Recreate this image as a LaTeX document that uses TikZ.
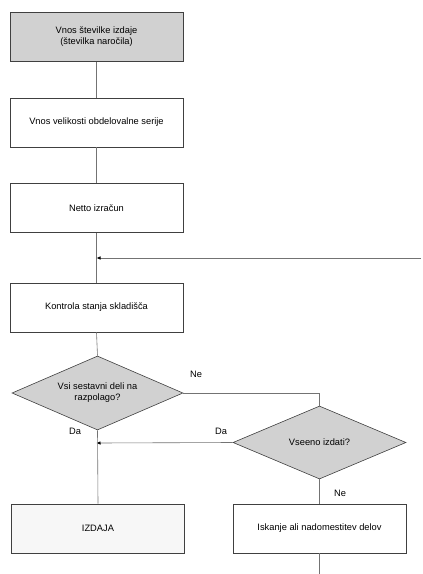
\documentclass[tikz,border=0pt]{standalone}
\usepackage{fontspec}
\setmainfont{Liberation Sans}
\usetikzlibrary{shapes.geometric,arrows.meta}
\definecolor{boxgray}{gray}{0.82}
\definecolor{linegray}{gray}{0.45}
\definecolor{edgegray}{gray}{0.25}
\begin{document}
\begin{tikzpicture}[x=1pt,y=-1pt,
  font=\fontsize{9.3}{11}\selectfont,
  procbox/.style={draw=edgegray,line width=0.6pt,minimum width=173pt,minimum height=49pt,inner sep=0pt,align=center},
  decide/.style={diamond,draw=edgegray,line width=0.6pt,fill=boxgray,inner sep=0pt,align=center},
  conn/.style={draw=linegray,line width=0.6pt},
  jarrow/.style={conn,-{Latex[length=4pt,width=3.5pt,fill=black,color=black]}},
  lbl/.style={inner sep=0pt}]
\useasboundingbox (0,0) rectangle (423,574);
\node[procbox,fill=boxgray] (b1) at (96.5,37) {Vnos številke izdaje\\(številka naročila)};
\node[procbox] (b2) at (96.5,122.5) {Vnos velikosti obdelovalne serije};
\node[procbox] (b3) at (96.5,208) {Netto izračun};
\node[procbox] (b4) at (96.5,307.5) {Kontrola stanja skladišča};
\node[decide,minimum width=171pt,minimum height=74pt] (d1) at (97.5,393) {};
\node[align=center] at (d1.center) {Vsi sestavni deli na\\razpolago?};
\node[decide,minimum width=173pt,minimum height=73pt] (d2) at (319.5,442.5) {};
\node at (d2.center) {Vseeno izdati?};
\node[procbox,fill=gray!6] (b5) at (98,528.5) {IZDAJA};
\node[procbox] (b6) at (319.5,528.5) {Iskanje ali nadomestitev delov};
\coordinate (j1) at (96.5,258);
\coordinate (r1) at (421,258);
\coordinate (j2) at (96.5,443);
\coordinate (k1) at (319.5,393);
\coordinate (e6) at (319.5,574);
\draw[conn] (b1.south) -- (b2.north);
\draw[conn] (b2.south) -- (b3.north);
\draw[conn] (b3.south) -- (b4.north);
\draw[jarrow] (r1) -- (j1);
\draw[conn] (b4.south) -- (d1.north);
\draw[conn] (d1.east) -- (k1) -- (d2.north);
\draw[jarrow] (d2.west) -- (j2);
\draw[conn] (d1.south) -- (b5.north);
\draw[conn] (d2.south) -- (b6.north);
\draw[conn] (b6.south) -- (e6);
\node[lbl] at (196,374) {Ne};
\node[lbl] at (75,431) {Da};
\node[lbl] at (221,431) {Da};
\node[lbl] at (340,493) {Ne};
\end{tikzpicture}
\end{document}
